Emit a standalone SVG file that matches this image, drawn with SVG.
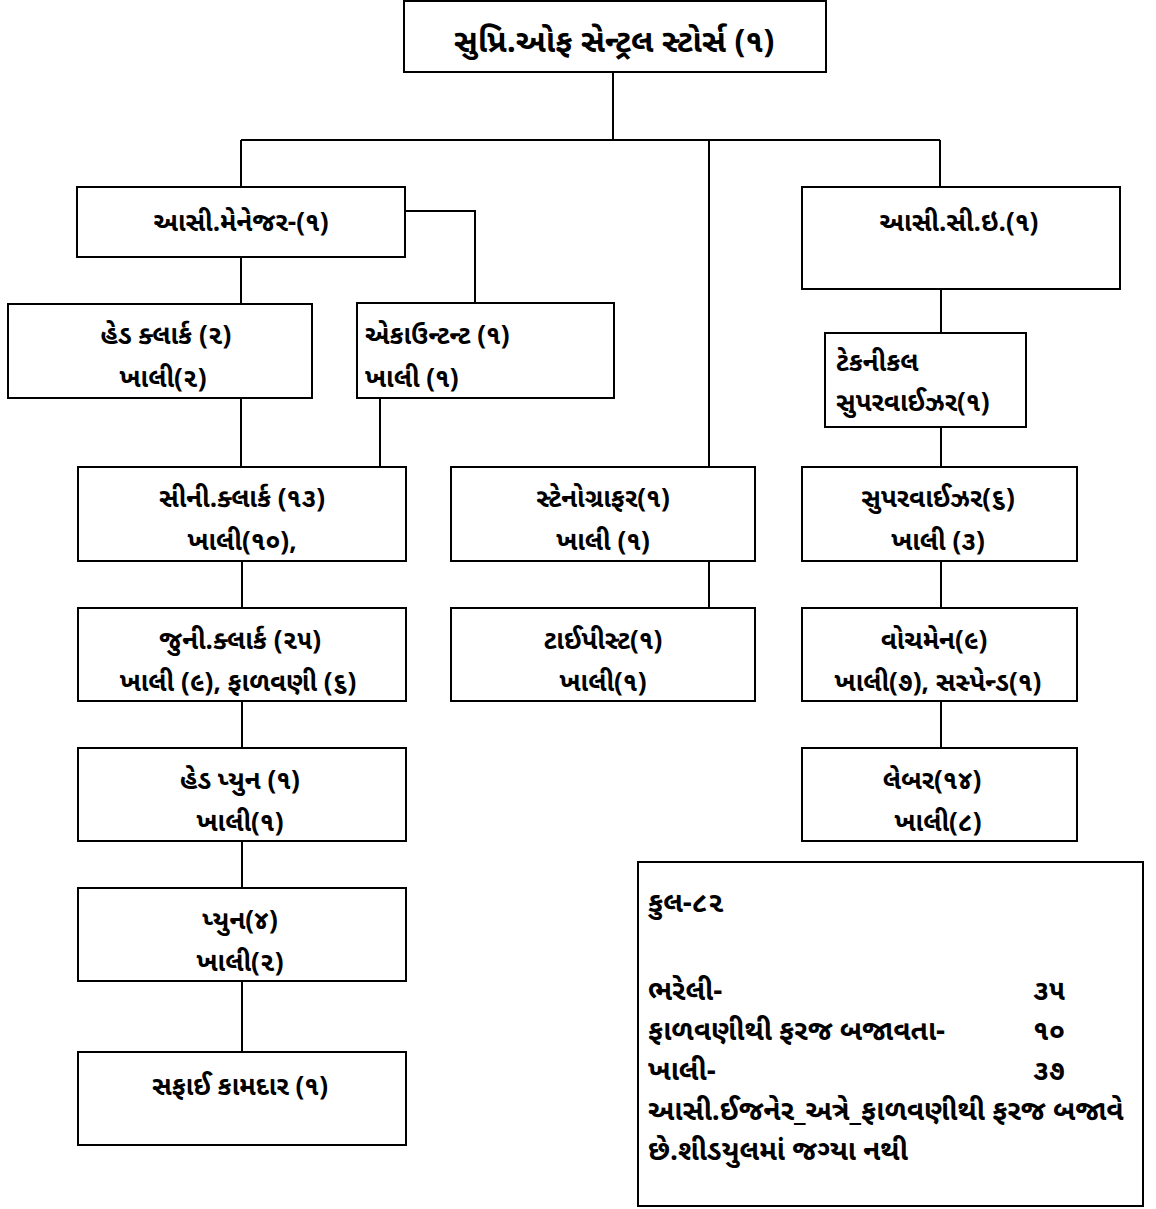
<svg xmlns="http://www.w3.org/2000/svg" width="1156" height="1209" viewBox="0 0 1156 1209">
<style>
.b{fill:#fff;stroke:#000;stroke-width:2}
.c{fill:none;stroke:#000;stroke-width:2}
text{font-family:"Noto Sans Gujarati","Noto Sans","DejaVu Sans",sans-serif;font-weight:bold;font-size:26px;fill:#000}
.m{text-anchor:middle}
.t{font-size:32px}
.s{font-size:28px}
</style>
<rect width="1156" height="1209" fill="#fff"/>
<g id="connectors">
<path class="c" d="M613,72V140M241,140H940M241,140V187M709,140V467M940,140V187"/>
<path class="c" d="M405,211H475V303M241,257V304M241,398V467M380,398V467"/>
<path class="c" d="M242,561V608M242,701V748M242,841V888M242,981V1052"/>
<path class="c" d="M709,561V608"/>
<path class="c" d="M941,289V333M941,427V467M941,561V608M941,701V748"/>
</g>
<g id="n-top"><rect class="b" x="404" y="1" width="422" height="71"/><text class="m t" x="614" y="52">સુપ્રિ.ઓફ સેન્ટ્રલ સ્ટોર્સ (૧)</text></g>
<g id="n-asimgr"><rect class="b" x="77" y="187" width="328" height="70"/><text class="m" x="241" y="231">આસી.મેનેજર-(૧)</text></g>
<g id="n-headclerk"><rect class="b" x="8" y="304" width="304" height="94"/><text class="m" x="166" y="344">હેડ ક્લાર્ક (૨)</text><text class="m" x="163" y="387">ખાલી(૨)</text></g>
<g id="n-accountant"><rect class="b" x="357" y="303" width="257" height="95"/><text x="365" y="344">એકાઉન્ટન્ટ (૧)</text><text x="365" y="387">ખાલી (૧)</text></g>
<g id="n-seniclerk"><rect class="b" x="78" y="467" width="328" height="94"/><text class="m" x="242" y="507">સીની.ક્લાર્ક (૧૩)</text><text class="m" x="242" y="550">ખાલી(૧૦),</text></g>
<g id="n-juniclerk"><rect class="b" x="78" y="608" width="328" height="93"/><text class="m" x="240" y="649">જુની.ક્લાર્ક (૨૫)</text><text class="m" x="238" y="691">ખાલી (૯), ફાળવણી (૬)</text></g>
<g id="n-headpeon"><rect class="b" x="78" y="748" width="328" height="93"/><text class="m" x="240" y="789">હેડ પ્યુન (૧)</text><text class="m" x="240" y="831">ખાલી(૧)</text></g>
<g id="n-peon"><rect class="b" x="78" y="888" width="328" height="93"/><text class="m" x="240" y="929">પ્યુન(૪)</text><text class="m" x="240" y="971">ખાલી(૨)</text></g>
<g id="n-safai"><rect class="b" x="78" y="1052" width="328" height="93"/><text class="m" x="240" y="1095">સફાઈ કામદાર (૧)</text></g>
<g id="n-steno"><rect class="b" x="451" y="467" width="304" height="94"/><text class="m" x="603" y="507">સ્ટેનોગ્રાફર(૧)</text><text class="m" x="603" y="550">ખાલી (૧)</text></g>
<g id="n-typist"><rect class="b" x="451" y="608" width="304" height="93"/><text class="m" x="603" y="649">ટાઈપીસ્ટ(૧)</text><text class="m" x="603" y="691">ખાલી(૧)</text></g>
<g id="n-asice"><rect class="b" x="802" y="187" width="318" height="102"/><text class="m" x="959" y="231">આસી.સી.ઇ.(૧)</text></g>
<g id="n-techsup"><rect class="b" x="825" y="333" width="201" height="94"/><text x="836" y="371">ટેકનીકલ</text><text x="836" y="411">સુપરવાઈઝર(૧)</text></g>
<g id="n-supervisor"><rect class="b" x="802" y="467" width="275" height="94"/><text class="m" x="938" y="507">સુપરવાઈઝર(૬)</text><text class="m" x="938" y="550">ખાલી (૩)</text></g>
<g id="n-watchman"><rect class="b" x="802" y="608" width="275" height="93"/><text class="m" x="934" y="649">વોચમેન(૯)</text><text class="m" x="938" y="691">ખાલી(૭), સસ્પેન્ડ(૧)</text></g>
<g id="n-labour"><rect class="b" x="802" y="748" width="275" height="93"/><text class="m" x="932" y="789">લેબર(૧૪)</text><text class="m" x="938" y="831">ખાલી(૮)</text></g>
<g id="n-summary"><rect class="b" x="638" y="862" width="505" height="344"/>
<text class="s" x="648" y="912">કુલ-૮૨</text>
<text class="s" x="648" y="1000">ભરેલી-</text><text class="s" x="1033" y="1000">૩૫</text>
<text class="s" x="648" y="1040">ફાળવણીથી ફરજ બજાવતા-</text><text class="s" x="1033" y="1040">૧૦</text>
<text class="s" x="648" y="1080">ખાલી-</text><text class="s" x="1033" y="1080">૩૭</text>
<text class="s" x="648" y="1120">આસી.ઈજનેર_અત્રે_ફાળવણીથી ફરજ બજાવે</text>
<text class="s" x="648" y="1160">છે.શીડયુલમાં જગ્યા નથી</text>
</g>
</svg>
